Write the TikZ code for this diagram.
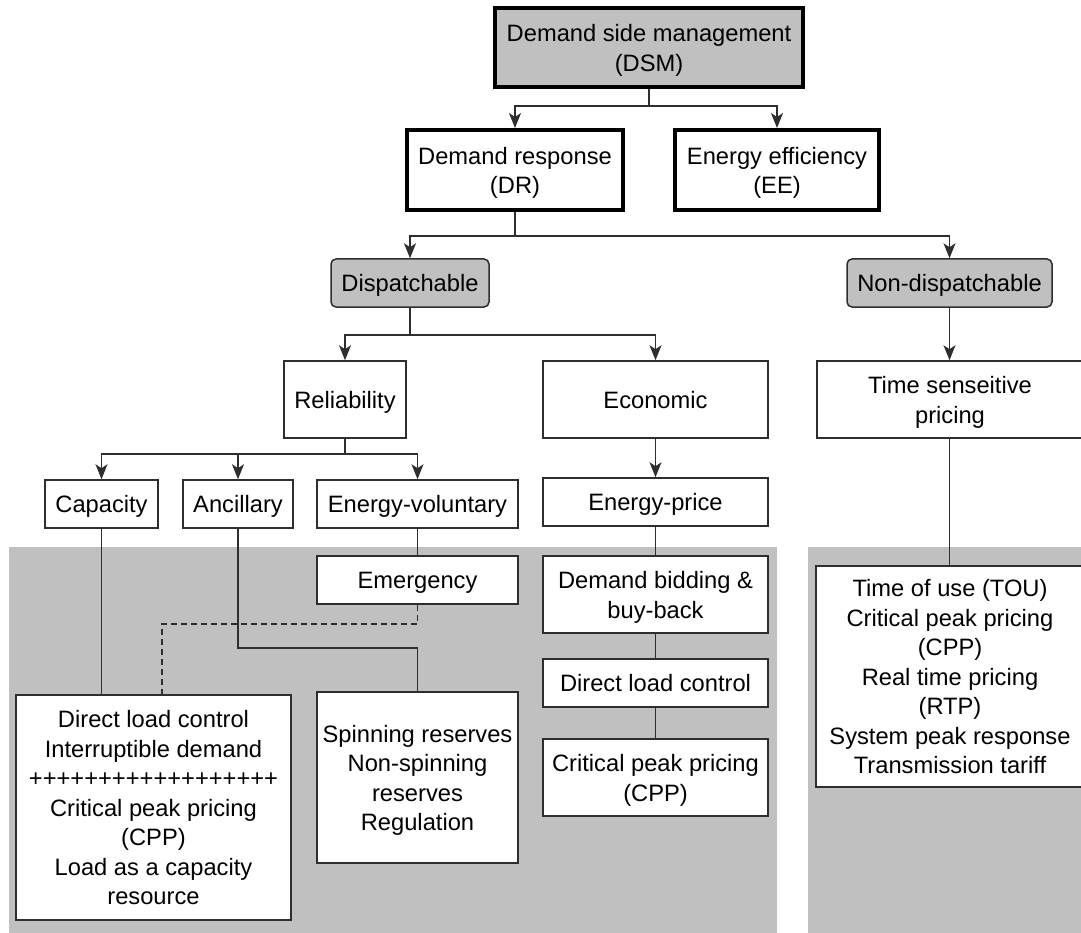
\documentclass[tikz,border=0pt]{standalone}
\usepackage{fontspec}
\setmainfont{Liberation Sans}
\usetikzlibrary{arrows.meta,calc}

\definecolor{panelgray}{HTML}{C0C0C0}
\definecolor{linegray}{HTML}{2E2E2E}

% centred text block, set a little lower than the box centre
\newcommand{\lbl}[1]{\raisebox{-3pt}[\height][\depth]{\begin{tabular}{@{}c@{}}#1\end{tabular}}}

\tikzset{
  box/.style={draw=linegray, line width=1.5pt, fill=white, align=center,
    inner sep=0pt, font=\fontsize{23.7}{29.5}\selectfont},
  thickbox/.style={box, line width=4pt, draw=black},
  graybox/.style={box, fill=panelgray, rounded corners=5pt},
  link/.style={draw=linegray, line width=1.5pt},
  arr/.style={link, -{Stealth[length=15pt,width=12pt,inset=4pt]}},
  dashlink/.style={link, dash pattern=on 6pt off 4pt},
}

\begin{document}
\begin{tikzpicture}[x=1pt, y=-1pt]
\useasboundingbox (0,0) rectangle (1081,933);
\clip (0,0) rectangle (1081,933);

% background panels
\fill[panelgray] (9,547) rectangle (777,940);
\fill[panelgray] (808,547) rectangle (1090,940);

% top levels
\node[thickbox, fill=panelgray, minimum width=308pt, minimum height=79pt] (dsm) at (649,47.5) {\lbl{Demand side management\\(DSM)}};
\node[thickbox, minimum width=216pt, minimum height=80pt] (dr) at (515,170) {\lbl{Demand response\\(DR)}};
\node[thickbox, minimum width=204pt, minimum height=80pt] (ee) at (777,170) {\lbl{Energy efficiency\\(EE)}};

\node[graybox, minimum width=158pt, minimum height=48pt] (disp) at (410,283) {\lbl{Dispatchable}};
\node[graybox, minimum width=205pt, minimum height=48pt] (nondisp) at (949.5,283) {\lbl{Non-dispatchable}};

\node[box, minimum width=122pt, minimum height=77pt] (rel) at (345,399.5) {\lbl{Reliability}};
\node[box, minimum width=225pt, minimum height=77pt] (eco) at (655.5,399.5) {\lbl{Economic}};
\node[box, minimum width=272pt, minimum height=77pt] (tsp) at (953,399.5) {\lbl{\hspace*{-6pt}Time senseitive\\\hspace*{-6pt}pricing}};

\node[box, minimum width=113pt, minimum height=48pt] (cap) at (101.5,504) {\lbl{Capacity}};
\node[box, minimum width=110pt, minimum height=48pt] (anc) at (238,504) {\lbl{Ancillary}};
\node[box, minimum width=201pt, minimum height=48pt] (ev) at (417.5,504) {\lbl{Energy-voluntary}};
\node[box, minimum width=225pt, minimum height=48pt] (ep) at (655.5,502) {\lbl{Energy-price}};

% program boxes
\node[box, minimum width=201pt, minimum height=48pt] (emg) at (417.5,580) {\lbl{Emergency}};
\node[box, minimum width=225pt, minimum height=77pt] (db) at (655.5,594.5) {\lbl{Demand bidding \&\\buy-back}};
\node[box, minimum width=225pt, minimum height=48pt] (dlc) at (655.5,683) {\lbl{Direct load control}};
\node[box, minimum width=225pt, minimum height=77pt] (cpp) at (655.5,777.5) {\lbl{Critical peak pricing\\(CPP)}};

\node[box, minimum width=275pt, minimum height=225pt] (capres) at (153.5,807.5)
  {\lbl{Direct load control\\Interruptible demand\\++++++++++++++++++\\Critical peak pricing\\(CPP)\\Load as a capacity\\resource}};
\node[box, minimum width=201pt, minimum height=171pt] (spin) at (417.5,777.5)
  {\lbl{Spinning reserves\\Non-spinning\\reserves\\Regulation}};
\node[box, minimum width=272pt, minimum height=221pt] (tariff) at (952,676.5)
  {\lbl{\hspace*{-4pt}Time of use (TOU)\\\hspace*{-4pt}Critical peak pricing\\\hspace*{-4pt}(CPP)\\\hspace*{-4pt}Real time pricing\\\hspace*{-4pt}(RTP)\\\hspace*{-4pt}System peak response\\\hspace*{-4pt}Transmission tariff}};

% connectors
\draw[arr] (dsm.south) -- ++(0,17) -| (dr.north);
\draw[arr] (dsm.south) -- ++(0,17) -| (ee.north);
\draw[arr] (dr.south) -- ++(0,24) -| (disp.north);
\draw[arr] (dr.south) -- ++(0,24) -| (nondisp.north);
\draw[arr] (disp.south) -- ++(0,27) -| (rel.north);
\draw[arr] (disp.south) -- ++(0,27) -| (eco.north);
\draw[arr] (nondisp.south) -- (nondisp.south |- tsp.north);
\draw[arr] (rel.south) -- ++(0,15) -| (cap.north);
\draw[arr] (rel.south) -- ++(0,15) -| (anc.north);
\draw[arr] (rel.south) -- ++(0,15) -| (ev.north);
\draw[arr] (eco.south) -- (ep.north);

\draw[link] (nondisp.south |- tsp.south) -- (nondisp.south |- tariff.north);
\draw[link] (ev.south) -- (emg.north);
\draw[link] (ep.south) -- (db.north);
\draw[link] (db.south) -- (dlc.north);
\draw[link] (dlc.south) -- (cpp.north);
\draw[link] (cap.south) -- (cap.south |- capres.north);
\draw[link] (anc.south) -- ++(0,119) -| (spin.north);
\draw[dashlink] (emg.south) -- ++(0,19) -| ([xshift=8.5pt]capres.north);
\end{tikzpicture}
\end{document}
